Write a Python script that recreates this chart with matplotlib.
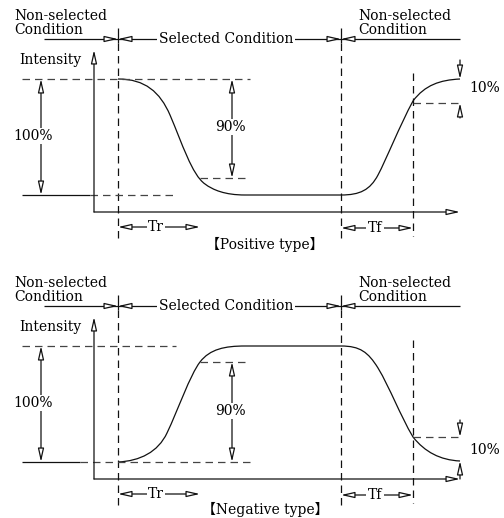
import matplotlib
matplotlib.use('Agg')
import matplotlib.pyplot as plt
from matplotlib.path import Path
from matplotlib.patches import PathPatch

plt.rcParams['font.family'] = ['DejaVu Serif', 'Noto Sans CJK SC']
plt.rcParams['font.size'] = 10

W, H = 504, 518

# ---- labels ----
panel_titles = ['【Positive type】', '【Negative type】']
panel_dy = [0, 267]          # vertical offset of each panel (px)
cond_left = 'Non-selected\nCondition'
cond_mid = 'Selected Condition'
cond_right = 'Non-selected\nCondition'
pct_labels = ['100%', '90%', '10%']
time_labels = ['Tr', 'Tf']

# ---- key positions of the diagram (px, top panel) ----
t_on, t_off = 118, 341       # select on / off
t_r, t_f = 200, 413          # end of Tr / Tf
lvl_hi, lvl_lo = 79, 195     # 100% levels
lvl90 = [178, 95]            # 90% line per panel
lvl10 = [103, 170]           # 10% line per panel

# response curves as cubic bezier vertices (px, relative to panel)
pos_curve = [(118, 79), (145, 79), (160, 92), (170, 115),
             (182, 143), (192, 175), (205, 184),
             (213, 190), (225, 195), (245, 195),
             (341, 195),
             (360, 195), (370, 190), (378, 175),
             (386, 160), (400, 125), (413, 101),
             (425, 85), (440, 80), (460, 79)]
neg_curve = [(118, 195), (140, 194), (158, 185), (167, 166),
             (178, 143), (190, 108), (200, 95),
             (210, 82), (225, 79), (245, 79),
             (341, 79),
             (360, 79), (368, 85), (378, 101),
             (390, 121), (400, 148), (413, 170),
             (425, 185), (440, 193), (460, 194)]
C4, LT = Path.CURVE4, Path.LINETO
curve_codes = [Path.MOVETO] + [C4] * 9 + [LT] + [C4] * 9

fig = plt.figure(figsize=(W / 100, H / 100), dpi=100)
ax = fig.add_axes([0, 0, 1, 1])
ax.set_xlim(0, W)
ax.set_ylim(H, 0)
ax.axis('off')

K = '#111111'
DASH = (0, (6, 4))
LW = 0.9
white = dict(facecolor='white', edgecolor='none', pad=1)


def arrow(x0, y0, x1, y1, style='-|>'):
    ax.annotate('', xy=(x1, y1), xytext=(x0, y0),
                arrowprops=dict(arrowstyle=style + ',head_length=0.8,head_width=0.18',
                                fc='white', ec=K, lw=LW, shrinkA=0, shrinkB=0,
                                mutation_scale=10))


def line(xs, ys, ls='-', c=K):
    ax.plot(xs, ys, color=c, lw=LW, ls=ls, solid_capstyle='butt')


for i, dy in enumerate(panel_dy):
    # condition bar
    ax.text(14, 23 + dy, cond_left, ha='left', va='center', linespacing=1.0)
    ax.text(358, 23 + dy, cond_right, ha='left', va='center', linespacing=1.0)
    line([44, 460], [39 + dy, 39 + dy])
    ax.text(226, 39 + dy, cond_mid, ha='center', va='center', bbox=white)
    for tx in (t_on, t_off):
        line([tx, tx], [28 + dy, 43 + dy])
        arrow(tx - 13, 39 + dy, tx, 39 + dy)
        arrow(tx + 13, 39 + dy, tx, 39 + dy)
    # vertical time marks
    line([t_on, t_on], [43 + dy, 238 + dy], DASH)
    line([t_off, t_off], [43 + dy, 240 + dy], DASH)
    line([t_f, t_f], [73 + dy, 236 + dy], DASH)

    # axes
    ax.text(81, 60 + dy, 'Intensity', ha='right', va='center')
    arrow(94, 212 + dy, 94, 50 + dy)
    arrow(94, 212 + dy, 460, 212 + dy)

    # 100% levels
    if i == 0:
        line([22, 250], [lvl_hi, lvl_hi], DASH, '#444444')
        line([22, 90], [lvl_lo, lvl_lo])
        line([90, 176], [lvl_lo, lvl_lo], DASH, '#444444')
    else:
        line([22, 176], [lvl_hi + dy, lvl_hi + dy], DASH, '#444444')
        line([22, 80], [lvl_lo + dy, lvl_lo + dy])
        line([80, 250], [lvl_lo + dy, lvl_lo + dy], DASH, '#444444')
    arrow(41, lvl_hi + dy, 41, lvl_lo + dy, '<|-|>')
    ax.text(33, 136 + dy, pct_labels[0], ha='center', va='center', bbox=white)

    # 90%
    line([200, 250], [lvl90[i] + dy] * 2, DASH, '#444444')
    y90a, y90b = (lvl_hi, lvl90[i]) if i == 0 else (lvl90[i], lvl_lo)
    arrow(232, y90a + dy, 232, y90b + dy, '<|-|>')
    ax.text(230, (127 if i == 0 else 144) + dy, pct_labels[1], ha='center', va='center', bbox=white)

    # 10%
    line([t_f, 460], [lvl10[i] + dy] * 2, DASH, '#444444')
    if i == 0:
        arrow(460, 60, 460, lvl_hi)
        arrow(460, 118, 460, lvl10[i])
        ax.text(469, 88, pct_labels[2], ha='left', va='center')
    else:
        arrow(460, 153 + dy, 460, lvl10[i] + dy)
        arrow(460, 212 + dy, 460, 194 + dy)
        ax.text(469, 183 + dy, pct_labels[2], ha='left', va='center')

    # curve
    pts = pos_curve if i == 0 else neg_curve
    path = Path([(x, y + dy) for x, y in pts], curve_codes)
    ax.add_patch(PathPatch(path, fill=False, ec=K, lw=LW))

    # Tr / Tf
    arrow(t_on, 227 + dy, t_r, 227 + dy, '<|-|>')
    ax.text(156, 227 + dy, time_labels[0], ha='center', va='center', bbox=white)
    arrow(t_off, 228 + dy, t_f, 228 + dy, '<|-|>')
    ax.text(375, 228 + dy, time_labels[1], ha='center', va='center', bbox=white)

    ax.text(265, 244 + dy - (2 if i else 0), panel_titles[i], ha='center', va='center')

fig.savefig('out.png', dpi=100)
